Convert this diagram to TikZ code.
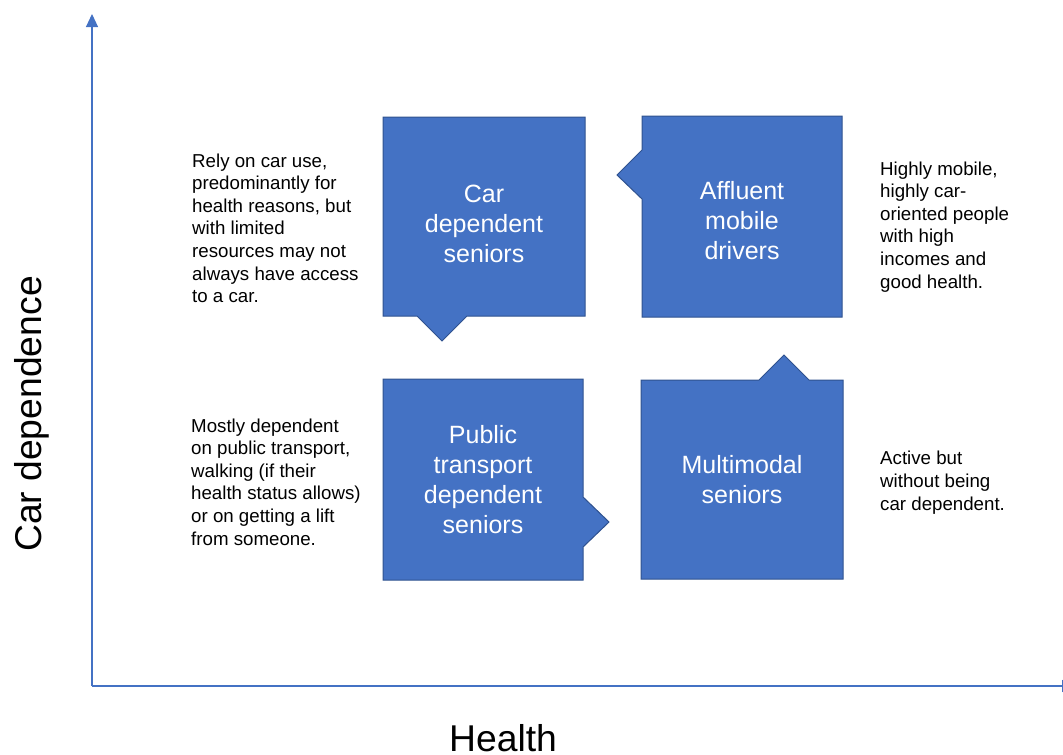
\documentclass[tikz,border=0pt]{standalone}
\usepackage{fontspec}
\setmainfont{Liberation Sans}
\usetikzlibrary{arrows.meta}
\definecolor{boxfill}{HTML}{4472C4}
\definecolor{boxline}{HTML}{2F528F}
\definecolor{axis}{HTML}{4472C4}
\tikzset{
  quad/.style={fill=boxfill, draw=boxline, line width=1pt, line join=miter},
  quadtext/.style={text=white, align=center, anchor=base, inner sep=0pt,
    font=\fontsize{25}{30}\selectfont},
  note/.style={text=black, align=left, anchor=base west, inner sep=0pt,
    font=\fontsize{18.7}{22.6}\selectfont},
  axislabel/.style={text=black, inner sep=0pt, font=\fontsize{37.3}{44}\selectfont},
  axisline/.style={draw=axis, line width=1.1pt}
}
\begin{document}
\begin{tikzpicture}[x=1pt,y=-1pt]
\useasboundingbox (0,0) rectangle (1063,755);
% axes
\coordinate (origin) at (92,686);
\coordinate (ytop) at (92,14);
\coordinate (xend) at (1075,686);
\draw[axisline,-{Triangle[width=12pt,length=13pt]}] (origin) -- (ytop);
\draw[axisline,-{Triangle[width=12pt,length=13pt]}] (origin) -- (xend);
\node[axislabel, anchor=base] (xlab) at (503,751) {Health};
\node[axislabel, anchor=base, rotate=90] (ylab) at (41,414) {Car dependence};
% quadrant shapes
\draw[quad] (383,117) -- (585,117) -- (585,316) -- (467,316) -- (442,341) -- (417,316) -- (383,316) -- cycle;
\draw[quad] (642,116) -- (842,116) -- (842,317) -- (642,317) -- (642,199) -- (617,175) -- (642,150) -- cycle;
\draw[quad] (383,379) -- (583,379) -- (583,497) -- (609,522) -- (583,547) -- (583,580) -- (383,580) -- cycle;
\draw[quad] (641,380) -- (759,380) -- (784,355) -- (809,380) -- (843,380) -- (843,579) -- (641,579) -- cycle;
% quadrant texts (base = last line)
\node[quadtext] (cds) at (484,262) {Car\\dependent\\seniors};
\node[quadtext] (amd) at (742,259) {Affluent\\mobile\\drivers};
\node[quadtext] (ptd) at (483,533) {Public\\transport\\dependent\\seniors};
\node[quadtext] (mms) at (742,503) {Multimodal\\seniors};
% notes (base = last line)
\node[note] (n1) at (192,302.6) {Rely on car use,\\predominantly for\\health reasons, but\\with limited\\resources may not\\always have access\\to a car.};
\node[note] (n2) at (191,545) {Mostly dependent\\on public transport,\\walking (if their\\health status allows)\\or on getting a lift\\from someone.};
\node[note] (n3) at (880,288) {Highly mobile,\\highly car-\\oriented people\\with high\\incomes and\\good health.};
\node[note] (n4) at (880,510) {Active but\\without being\\car dependent.};
\end{tikzpicture}
\end{document}
